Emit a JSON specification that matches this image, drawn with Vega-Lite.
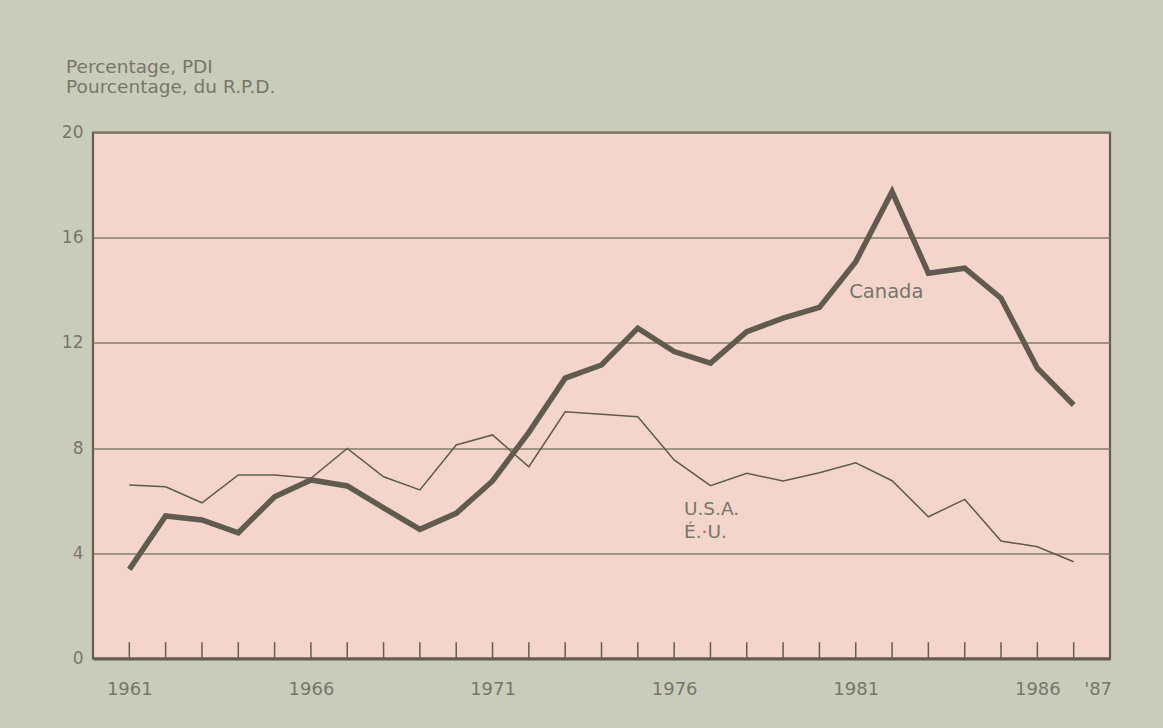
{
  "$schema": "https://vega.github.io/schema/vega-lite/v6.json",
  "width": 1017,
  "height": 526,
  "autosize": {"type": "none"},
  "padding": {"left": 93, "top": 132.5, "right": 53, "bottom": 69.5},
  "background": "#c9ccba",
  "config": {
    "view": {"fill": "#f4d5cb", "stroke": "#625e52", "strokeWidth": 2.2},
    "font": "DejaVu Sans"
  },
  "datasets": {
    "series": [
      {"year": 1961, "series": "Canada", "value": 3.39},
      {"year": 1962, "series": "Canada", "value": 5.42},
      {"year": 1963, "series": "Canada", "value": 5.27},
      {"year": 1964, "series": "Canada", "value": 4.78},
      {"year": 1965, "series": "Canada", "value": 6.15},
      {"year": 1966, "series": "Canada", "value": 6.79},
      {"year": 1967, "series": "Canada", "value": 6.56},
      {"year": 1968, "series": "Canada", "value": 5.73},
      {"year": 1969, "series": "Canada", "value": 4.91},
      {"year": 1970, "series": "Canada", "value": 5.52},
      {"year": 1971, "series": "Canada", "value": 6.75},
      {"year": 1972, "series": "Canada", "value": 8.6},
      {"year": 1973, "series": "Canada", "value": 10.66},
      {"year": 1974, "series": "Canada", "value": 11.16},
      {"year": 1975, "series": "Canada", "value": 12.56},
      {"year": 1976, "series": "Canada", "value": 11.67},
      {"year": 1977, "series": "Canada", "value": 11.23},
      {"year": 1978, "series": "Canada", "value": 12.43},
      {"year": 1979, "series": "Canada", "value": 12.94},
      {"year": 1980, "series": "Canada", "value": 13.35},
      {"year": 1981, "series": "Canada", "value": 15.09},
      {"year": 1982, "series": "Canada", "value": 17.75},
      {"year": 1983, "series": "Canada", "value": 14.65},
      {"year": 1984, "series": "Canada", "value": 14.84},
      {"year": 1985, "series": "Canada", "value": 13.7},
      {"year": 1986, "series": "Canada", "value": 11.04},
      {"year": 1987, "series": "Canada", "value": 9.64},
      {"year": 1961, "series": "U.S.A.", "value": 6.6},
      {"year": 1962, "series": "U.S.A.", "value": 6.53},
      {"year": 1963, "series": "U.S.A.", "value": 5.92},
      {"year": 1964, "series": "U.S.A.", "value": 6.98},
      {"year": 1965, "series": "U.S.A.", "value": 6.98},
      {"year": 1966, "series": "U.S.A.", "value": 6.85},
      {"year": 1967, "series": "U.S.A.", "value": 7.99},
      {"year": 1968, "series": "U.S.A.", "value": 6.91},
      {"year": 1969, "series": "U.S.A.", "value": 6.41},
      {"year": 1970, "series": "U.S.A.", "value": 8.12},
      {"year": 1971, "series": "U.S.A.", "value": 8.5},
      {"year": 1972, "series": "U.S.A.", "value": 7.29},
      {"year": 1973, "series": "U.S.A.", "value": 9.38},
      {"year": 1974, "series": "U.S.A.", "value": 9.29},
      {"year": 1975, "series": "U.S.A.", "value": 9.19},
      {"year": 1976, "series": "U.S.A.", "value": 7.55},
      {"year": 1977, "series": "U.S.A.", "value": 6.57},
      {"year": 1978, "series": "U.S.A.", "value": 7.04},
      {"year": 1979, "series": "U.S.A.", "value": 6.75},
      {"year": 1980, "series": "U.S.A.", "value": 7.06},
      {"year": 1981, "series": "U.S.A.", "value": 7.44},
      {"year": 1982, "series": "U.S.A.", "value": 6.76},
      {"year": 1983, "series": "U.S.A.", "value": 5.39},
      {"year": 1984, "series": "U.S.A.", "value": 6.05},
      {"year": 1985, "series": "U.S.A.", "value": 4.47},
      {"year": 1986, "series": "U.S.A.", "value": 4.25},
      {"year": 1987, "series": "U.S.A.", "value": 3.68}
    ],
    "ticks": [
      {"year": 1961}, {"year": 1962}, {"year": 1963}, {"year": 1964}, {"year": 1965},
      {"year": 1966}, {"year": 1967}, {"year": 1968}, {"year": 1969}, {"year": 1970},
      {"year": 1971}, {"year": 1972}, {"year": 1973}, {"year": 1974}, {"year": 1975},
      {"year": 1976}, {"year": 1977}, {"year": 1978}, {"year": 1979}, {"year": 1980},
      {"year": 1981}, {"year": 1982}, {"year": 1983}, {"year": 1984}, {"year": 1985},
      {"year": 1986}, {"year": 1987}
    ]
  },
  "layer": [
    {
      "data": {"name": "series"},
      "mark": {"type": "line", "color": "#5f5b4f", "strokeJoin": "miter"},
      "encoding": {
        "x": {
          "field": "year", "type": "quantitative",
          "scale": {"domain": [1960, 1988], "nice": false, "zero": false},
          "axis": {
            "title": null,
            "values": [1961, 1966, 1971, 1976, 1981, 1986, 1987],
            "format": "d",
            "labelExpr": "datum.value == 1987 ? \"'87\" : datum.label",
            "grid": false, "ticks": false,
            "domain": true, "domainColor": "#625e52", "domainWidth": 3,
            "labelFontSize": 18, "labelColor": "#78766a",
            "labelBaseline": "alphabetic", "labelPadding": 35.5,
            "labelFlush": false, "labelOverlap": false,
            "labelAlign": {"condition": {"test": "datum.value == 1987", "value": "left"}, "value": "center"},
            "labelOffset": {"condition": {"test": "datum.value == 1987", "value": 10}, "value": 0}
          }
        },
        "y": {
          "field": "value", "type": "quantitative",
          "scale": {"domain": [0, 20], "nice": false},
          "axis": {
            "title": null,
            "values": [0, 4, 8, 12, 16, 20],
            "grid": true, "gridColor": "#857c6a", "gridWidth": 1.6, "gridOpacity": 1,
            "ticks": false, "domain": false,
            "labelFontSize": 17, "labelColor": "#78766a",
            "labelPadding": 10, "labelBaseline": "middle"
          }
        },
        "strokeWidth": {
          "field": "series", "type": "nominal",
          "scale": {"domain": ["Canada", "U.S.A."], "range": [5.5, 1.5]},
          "legend": null
        },
        "detail": {"field": "series"}
      }
    },
    {
      "data": {"name": "ticks"},
      "mark": {"type": "rule", "color": "#625e52", "strokeWidth": 1.5},
      "encoding": {
        "x": {"field": "year", "type": "quantitative"},
        "y": {"datum": 0, "type": "quantitative"},
        "y2": {"datum": 0.62}
      }
    },
    {
      "data": {"values": [{}]},
      "mark": {"type": "text", "text": ["Percentage, PDI", "Pourcentage, du R.P.D."], "align": "left", "baseline": "alphabetic", "fontSize": 18.5, "lineHeight": 20, "color": "#78766a"},
      "encoding": {
        "x": {"datum": 1959.26, "type": "quantitative"},
        "y": {"datum": 22.27, "type": "quantitative"}
      }
    },
    {
      "data": {"values": [{}]},
      "mark": {"type": "text", "text": "Canada", "align": "left", "baseline": "alphabetic", "fontSize": 19.5, "color": "#78766a"},
      "encoding": {
        "x": {"datum": 1980.82, "type": "quantitative"},
        "y": {"datum": 13.71, "type": "quantitative"}
      }
    },
    {
      "data": {"values": [{}]},
      "mark": {"type": "text", "text": ["U.S.A.", "É.·U."], "align": "left", "baseline": "alphabetic", "fontSize": 18.5, "lineHeight": 23, "color": "#78766a"},
      "encoding": {
        "x": {"datum": 1976.27, "type": "quantitative"},
        "y": {"datum": 5.46, "type": "quantitative"}
      }
    }
  ]
}
